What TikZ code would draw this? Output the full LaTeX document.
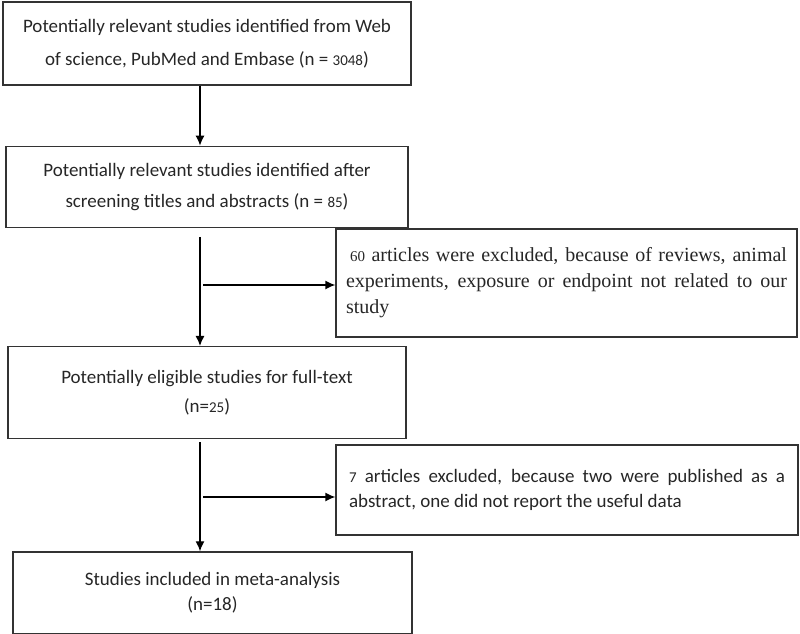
\documentclass[tikz,border=0pt]{standalone}
\usepackage{fontspec}
\setmainfont{Carlito}
\newfontfamily\timesfont{Liberation Serif}
\usetikzlibrary{arrows.meta,positioning,calc}
\newcommand{\sn}[1]{{\fontsize{15}{15}\selectfont #1}}
\hyphenpenalty=10000
\exhyphenpenalty=10000

\begin{document}
\begin{tikzpicture}[x=1pt,y=-1pt,>={Latex[length=10pt,width=9pt]},
	stage/.style={draw=black!80,line width=1.3pt,rectangle,align=center,inner sep=0pt,text=black!85},
	excl/.style={stage,align=justify}]
\useasboundingbox (0,0) rectangle (800,633);

\node[stage,minimum width=408pt,minimum height=83pt,font=\fontsize{19}{33}\selectfont] (search) at (207,43.5) {Potentially relevant studies identified from Web\\of science, PubMed and Embase (n = \sn{3048})};
\node[stage,minimum width=402pt,minimum height=81pt,font=\fontsize{19}{31}\selectfont] (screen) [below=60pt of search] {Potentially relevant studies identified after\\screening titles and abstracts (n = \sn{85})};
\node[stage,minimum width=398pt,minimum height=92pt,font=\fontsize{19}{29}\selectfont] (fulltext) [below=118pt of screen] {Potentially eligible studies for full-text\\(n=\sn{25})};
\node[stage,minimum width=399pt,minimum height=82pt,font=\fontsize{19}{25}\selectfont] (incl) [below=112pt of fulltext,xshift=5.5pt] {Studies included in meta-analysis\\(n=18)};

\node[excl,inner xsep=10pt,text width=441pt,minimum height=108pt,font=\timesfont\fontsize{20}{26}\selectfont] (exclA) at (566.5,283) {\hspace*{4pt}\sn{60} articles were excluded, because of reviews, animal experiments, exposure or endpoint not related to our study};
\node[excl,inner xsep=13pt,text width=436pt,minimum height=90pt,font=\fontsize{19}{25}\selectfont] (exclB) at (567,490) {\sn{7} articles excluded, because two were published as a abstract, one did not report the useful data};

\coordinate (spine) at (200,0);
\draw[->,line width=1.3pt] (search.south -| spine) -- (screen.north -| spine);
\draw[->,line width=1.3pt] ($(screen.south -| spine)+(0,9)$) -- (fulltext.north -| spine);
\draw[->,line width=1.3pt] ($(spine |- exclA.west)+(3,2)$) -- ($(exclA.west)+(0,2)$);
\draw[->,line width=1.3pt] ($(fulltext.south -| spine)+(0,3)$) -- (incl.north -| spine);
\draw[->,line width=1.3pt] ($(spine |- exclB.west)+(3,7)$) -- ($(exclB.west)+(0,7)$);

\end{tikzpicture}
\end{document}
